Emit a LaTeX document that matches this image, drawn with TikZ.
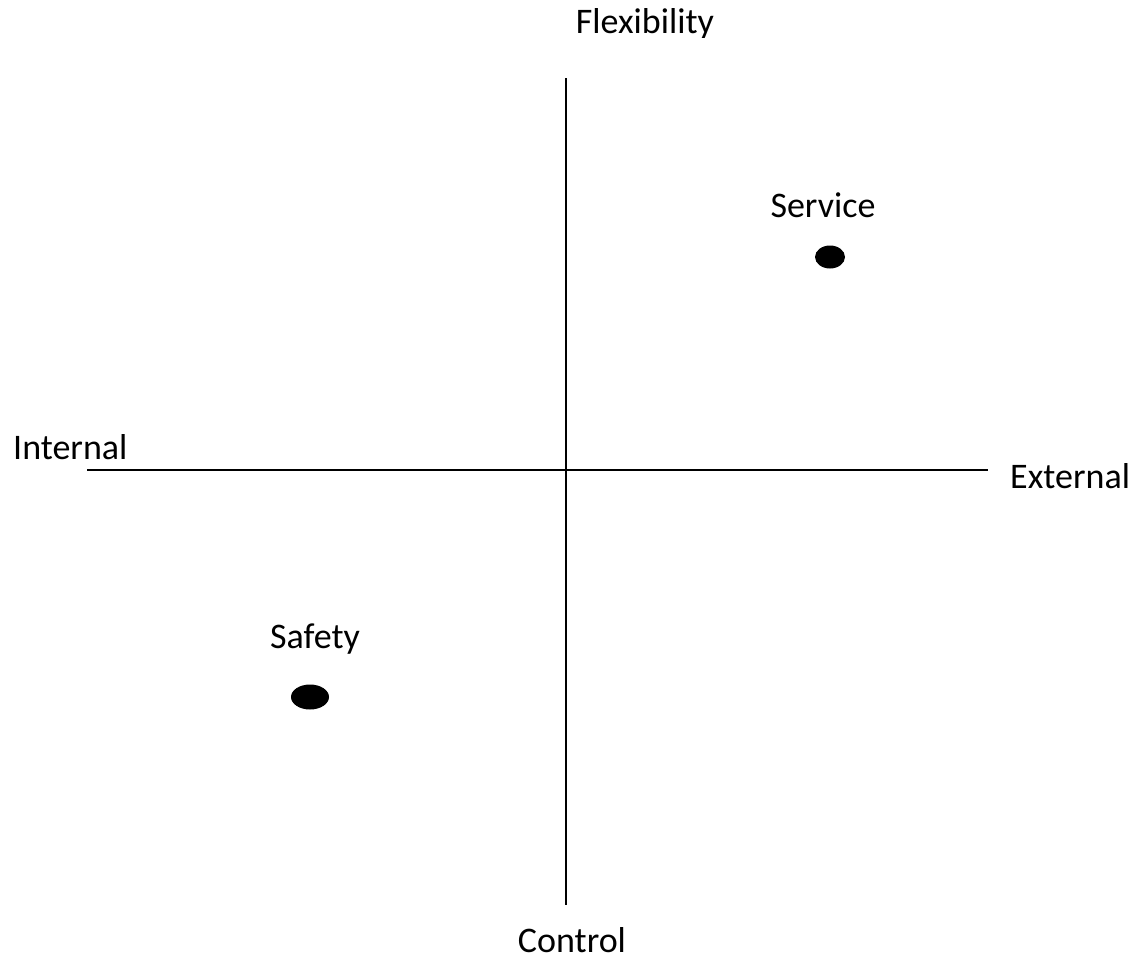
\documentclass[tikz,border=0pt]{standalone}
\usepackage{fontspec}
\setmainfont{Carlito}
\usetikzlibrary{shapes.geometric}

\begin{document}
\begin{tikzpicture}[x=1pt,y=-1pt,
  axis line/.style={line width=1.6pt,black},
  axis label/.style={font=\fontsize{36}{43}\selectfont,inner sep=0pt},
  point/.style={ellipse,fill=black,inner sep=0pt}]

  \useasboundingbox (0,0) rectangle (1147,961);

  % axes
  \coordinate (top) at (566,78);
  \coordinate (bottom) at (566,905);
  \coordinate (left) at (87,470);
  \coordinate (leftjoin) at (171,470);
  \coordinate (right) at (988,470);

  \draw[axis line] (top) -- (bottom);
  \draw[line width=1.1pt] (left) -- (leftjoin);
  \draw[axis line] (leftjoin) -- (right);

  % axis labels
  \begin{scope}
    \clip (0,0) rectangle (1147,37);
    \node[axis label,anchor=base] (flex) at (645,33) {Flexibility};
  \end{scope}
  \node[axis label,anchor=base] (ctrl) at (572,952) {Control};
  \node[axis label,anchor=base west] (int) at (13,459) {Internal};
  \node[axis label,anchor=base west] (ext) at (1010,488) {External};

  % points
  \node[point,minimum width=30pt,minimum height=23pt] (serv) at (830,257) {};
  \node[axis label,anchor=base] (servlab) at (823,217) {Service};
  \node[point,minimum width=38pt,minimum height=25pt] (safe) at (310,697) {};
  \node[axis label,anchor=base] (safelab) at (315,648) {Safety};
\end{tikzpicture}
\end{document}
